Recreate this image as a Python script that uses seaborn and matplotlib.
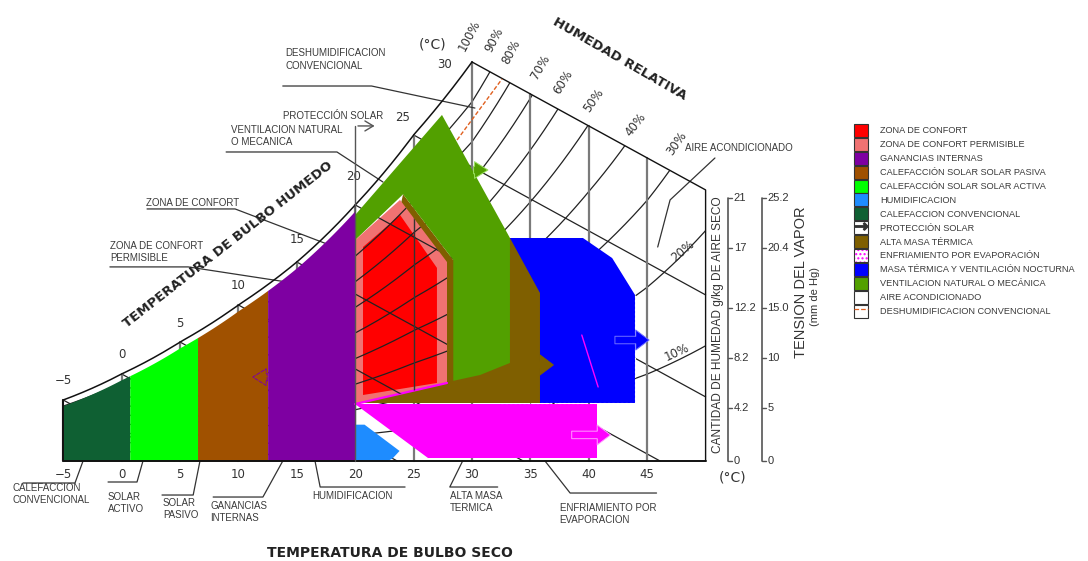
import numpy as np
import pandas as pd
import matplotlib
matplotlib.use("Agg")
import matplotlib.pyplot as plt
import matplotlib.patches as mpatches
from matplotlib.lines import Line2D
import seaborn as sns

# ---------------- data ----------------
# saturation curve (dry bulb °C -> chart humidity g/kg)
sat_temp = [-5, 0, 5, 10, 15, 20, 25, 30, 35, 40, 45, 50]
sat_hum = [4.87, 6.95, 9.5, 12.46, 15.89, 20.45, 26.04, 31.87, 41.4, 53.8, 69.4, 92.0]
rh_levels = [10, 20, 30, 40, 50, 60, 70, 80, 90]
wet_bulb_temps = [-5, 0, 5, 10, 15, 20, 25, 30]
dry_bulb_ticks = [-5, 0, 5, 10, 15, 20, 25, 30, 35, 40, 45]
wet_bulb_slope = -0.511
t_max = 50

humidity_ticks = [0, 4.2, 8.2, 12.2, 17, 21]
humidity_labels = ["0", "4.2", "8.2", "12.2", "17", "21"]
vapor_labels = ["0", "5", "10", "15.0", "20.4", "25.2"]

# heating strategies: bands of dry bulb temperature under the saturation curve
heating_edges = [-5, 0.7, 6.5, 12.5, 20]

humid_T = [20, 20, 20.8, 23.8, 23.2, 22.8]
humid_W = [0, 2.9, 2.9, 0.8, 0.2, 0]
evap_T = [20, 40.7, 40.7, 26.2]
evap_W = [4.55, 4.55, 0.24, 0.24]
night_T = [32.4, 39.5, 42.0, 43.96, 43.96, 32.4]
night_W = [17.81, 17.81, 16.21, 13.26, 4.63, 4.63]
mass_T = [20, 24.1, 28.4, 33.25, 35.82, 35.82]
mass_W = [4.63, 21.3, 16.05, 17.81, 13.42, 4.63]
vent_T = [20, 27.43, 33.25, 33.25, 30.7, 28.4, 28.4, 24.1, 20]
vent_W = [19.65, 27.64, 17.81, 7.83, 6.87, 6.4, 16.05, 21.3, 17.65]
perm_T = [20, 20, 23.84, 27.86, 27.86]
perm_W = [4.55, 17.65, 20.85, 15.89, 6.23]
comfort_T = [20.67, 20.67, 23.84, 27.0, 27.0]
comfort_W = [5.27, 17.09, 19.65, 15.42, 6.23]
dehum_T = [28.72, 32.57]
dehum_W = [25.64, 30.51]

# colours
C_COMF = "#FF0000"
C_PERM = "#F07272"
C_GAIN = "#7E00A2"
C_PASS = "#A05100"
C_ACT = "#00FF00"
C_HUM = "#1E8CFF"
C_CONV = "#0F6033"
C_MASS = "#7F5F00"
C_EVAP = "#FF00FF"
C_NIGHT = "#0000FF"
C_VENT = "#52A000"
C_DEH = "#E06020"
TXT = "#3a3a3a"

sns.set_theme(style="white")
plt.rcParams["font.family"] = ["Liberation Sans", "DejaVu Sans"]

fig = plt.figure(figsize=(10.88, 5.61), dpi=100)
ax = fig.add_axes([0, 0, 1, 1])
ax.set_xlim(-10.41, 82.74)
ax.set_ylim(-7.99, 36.82)
ax.axis("off")


def sat(t):
    return np.exp(np.interp(t, sat_temp, np.log(sat_hum)))


def top_border(t):
    return sat(30) + wet_bulb_slope * (np.asarray(t) - 30)


# chart outline used to clip the grid
t_curve = np.linspace(-5, 30, 300)
outline_xy = np.c_[np.r_[t_curve, t_max, t_max, -5],
                   np.r_[sat(t_curve), top_border(t_max), 0, 0]]
outline = mpatches.Polygon(outline_xy, closed=True, fc="none", ec="none")
ax.add_patch(outline)

# relative humidity curves
t_fine = np.linspace(-5, t_max, 800)
rh_df = pd.concat([pd.DataFrame({"T": t_fine, "W": r / 100 * sat(t_fine), "rh": r})
                   for r in rh_levels])
sns.lineplot(data=rh_df, x="T", y="W", units="rh", estimator=None, sort=False,
             color="#222222", lw=0.9, ax=ax, legend=False, zorder=1)
for ln in ax.lines:
    ln.set_clip_path(outline)


def wet_bulb_line(tw):
    w0 = float(sat(tw))
    t_end = min(tw - w0 / wet_bulb_slope, t_max)
    return [tw, t_end], [w0, w0 + wet_bulb_slope * (t_end - tw)]


for tw in wet_bulb_temps[:-1]:
    xs, ys = wet_bulb_line(tw)
    ax.plot(xs, ys, color="#222222", lw=0.9, zorder=1)
for tb in dry_bulb_ticks:
    top = sat(tb) if tb <= 30 else top_border(tb)
    ax.plot([tb, tb], [0, top], color="#7a7a7a", lw=1.6, zorder=1)

# heating bands
band_colors = [C_CONV, C_ACT, C_PASS, C_GAIN]
for (t0, t1), col in zip(zip(heating_edges[:-1], heating_edges[1:]), band_colors):
    tt = np.linspace(t0, t1, 60)
    ax.fill_between(tt, 0, sat(tt) - 0.45, color=col, lw=0, zorder=2)

ax.fill(humid_T, humid_W, color=C_HUM, lw=0, zorder=2)
ax.fill(evap_T, evap_W, color=C_EVAP, lw=0, zorder=2)
ax.fill(night_T, night_W, color=C_NIGHT, lw=0, zorder=2)
ax.plot([night_T[3], night_T[4], night_T[5]], [night_W[3], night_W[4], night_W[5]],
        color="white", lw=0.8, ls=(0, (2, 2)), zorder=2.1)
ax.fill(mass_T, mass_W, color=C_MASS, lw=0, zorder=2.2)
ax.fill(vent_T, vent_W, color=C_VENT, lw=0, zorder=2.4)
perm_patch = ax.fill(perm_T, perm_W, color=C_PERM, lw=0, zorder=2.6)[0]
ax.fill(comfort_T, comfort_W, color=C_COMF, lw=0, zorder=2.8)
ax.plot([perm_T[0], perm_T[-1]], [perm_W[0], perm_W[-1]], color=C_EVAP, lw=1.6, zorder=2.9)
ax.plot([39.4, 40.8], [10.06, 5.91], color=C_EVAP, lw=1.0, zorder=2.9)

# grid lines visible across the comfort zone
for r in rh_levels:
    ln, = ax.plot(t_fine, r / 100 * sat(t_fine), color="#222222", lw=0.9, zorder=3)
    ln.set_clip_path(perm_patch)
for tw in wet_bulb_temps[:-1]:
    xs, ys = wet_bulb_line(tw)
    ln, = ax.plot(xs, ys, color="#222222", lw=0.9, zorder=3)
    ln.set_clip_path(perm_patch)
ln, = ax.plot([25, 25], [0, sat(25)], color="#333333", lw=1.0, zorder=3)
ln.set_clip_path(perm_patch)

# outline
ax.plot(t_curve, sat(t_curve), color="#111111", lw=1.1, zorder=4)
ax.plot([30, t_max, t_max], [sat(30), float(top_border(t_max)), 0], color="#111111", lw=1.0, zorder=4)
ax.plot([-5, -5, t_max], [sat(-5), 0, 0], color="#111111", lw=1.4, zorder=4)
ax.plot(dehum_T, dehum_W, color=C_DEH, lw=1.0, ls=(0, (3, 1.5)), zorder=4)


# strategy arrows
def arrow(tail, tip, fc, ec, ls="-", hw=1.2, tw=0.45):
    ax.annotate("", xy=tip, xytext=tail, zorder=5,
                arrowprops=dict(arrowstyle=f"simple,head_length=0.8,head_width={hw},tail_width={tw}",
                                fc=fc, ec=ec, lw=0.7, ls=ls))


arrow((38.3, 2.08), (42.1, 2.08), C_EVAP, "#FF9CFF")
arrow((42.0, 9.66), (45.4, 9.66), C_NIGHT, "#7070FF")
arrow((34.0, 7.67), (37.2, 7.67), C_MASS, C_MASS)
arrow((29.9, 23.24), (31.6, 23.24), C_VENT, "#9BE060", hw=1.0)
arrow((12.7, 6.7), (11.0, 6.7), "none", C_GAIN, ls="--", hw=1.0)

ax.plot([20, 20], [0, 26.76], color="#555555", lw=1.0, zorder=4)
ax.annotate("", xy=(21.9, 26.76), xytext=(20, 26.76), zorder=4,
            arrowprops=dict(arrowstyle="->,head_length=0.5,head_width=0.3", color="#555555", lw=1.0))

# axis numbers
num_font = dict(family="DejaVu Sans", fontsize=8.5, color="#333333")
for tb in dry_bulb_ticks:
    ax.text(tb, -1.05, f"{tb}".replace("-", "\u2212"), ha="center", va="center", **num_font)

wb_offsets = [(0, 19), (0, 19), (0, 19), (0, 19), (0, 23), (-2, 28), (-11, 17), (-27, -3)]
for tw, (dx, dy) in zip(wet_bulb_temps, wb_offsets):
    ax.annotate(f"{tw}".replace("-", "\u2212"), (tw, float(sat(tw))), xytext=(dx, dy),
                textcoords="offset pixels", ha="center", va="center", **num_font)
ax.text(26.6, 33.3, "(°C)", ha="center", va="center", family="DejaVu Sans", fontsize=10, color="#333333")
ax.text(52.3, -1.36, "(°C)", ha="center", va="center", family="DejaVu Sans", fontsize=10, color="#333333")

# relative humidity labels
rh_label_pos = [(29.8, 34.0, 62), (31.9, 33.6, 62), (33.4, 32.7, 62), (35.9, 31.5, 60),
                (37.8, 30.3, 58), (40.4, 28.8, 55), (44.0, 26.9, 52), (47.5, 25.4, 55),
                (48.06, 16.77, 40), (47.55, 8.71, 25)]
for r, (x, y, rot) in zip([100, 90, 80, 70, 60, 50, 40, 30, 20, 10], rh_label_pos):
    ax.text(x, y, f"{r}%", rotation=rot, ha="center", va="center", rotation_mode="anchor", **num_font)

# right-hand scales
for x_axis, labels in [(51.9, humidity_labels), (54.8, vapor_labels)]:
    ax.plot([x_axis, x_axis], [0, humidity_ticks[-1]], color="#555555", lw=1.2)
    for v, lab in zip(humidity_ticks, labels):
        ax.plot([x_axis, x_axis + 0.4], [v, v], color="#555555", lw=1.0)
        ax.text(x_axis + 0.5, v, lab, ha="left", va="center", fontsize=8, color="#333333")
ax.text(51.05, 10.9, "CANTIDAD DE HUMEDAD g/kg DE AIRE SECO", rotation=90,
        ha="center", va="center", fontsize=8.6, color="#333333")
ax.text(58.2, 14.3, "TENSION DEL VAPOR", rotation=90, ha="center", va="center",
        fontsize=10.5, color="#333333")
ax.text(59.4, 13.1, "(mm de Hg)", rotation=90, ha="center", va="center",
        fontsize=8, color="#333333")

# annotation labels with leader lines
lab_font = dict(fontsize=7, color=TXT, ha="left", va="center", linespacing=1.35)
leaders = [
    ("DESHUMIDIFICACION\nCONVENCIONAL", (14.0, 32.07), [13.8, 21.4, 30.25], [29.95, 29.95, 28.19]),
    ("PROTECCIÓN SOLAR", (13.8, 27.56), None, None),
    ("VENTILACION NATURAL\nO MECANICA", (9.37, 25.96), [8.95, 18.44, 22.38], [24.68, 24.68, 22.28]),
    ("ZONA DE CONFORT", (2.09, 20.6), [2.18, 9.72, 23.4], [20.13, 20.13, 15.26]),
    ("ZONA DE CONFORT\nPERMISIBLE", (-0.99, 16.69), [-1.0, 5.7, 20.4], [15.5, 15.5, 13.4]),
    ("CALEFACCION\nCONVENCIONAL", (-9.38, -2.64), [-8.44, -3.99, -3.3], [-1.76, -1.76, 0]),
    ("SOLAR\nACTIVO", (-1.16, -3.35), [-1.16, 1.32, 1.83], [-1.68, -1.68, 0]),
    ("SOLAR\nPASIVO", (3.54, -3.83), [3.46, 6.13, 6.71], [-2.72, -2.72, 0]),
    ("GANANCIAS\nINTERNAS", (7.57, -4.07), [7.84, 12.1, 13.8], [-2.88, -2.88, 0]),
    ("HUMIDIFICACION", (16.3, -2.8), [16.56, 17.0, 24.27], [0, -2.08, -2.08]),
    ("ALTA MASA\nTERMICA", (28.1, -3.27), [32.2, 28.1, 29.2], [-2.08, -2.08, 0]),
    ("ENFRIAMIENTO POR\nEVAPORACION", (37.5, -4.23), [36.25, 38.4, 45.8], [0, -2.56, -2.56]),
    ("AIRE ACONDICIONADO", (48.2, 25.0), [50.8, 46.96, 45.9], [24.2, 20.85, 17.09]),
]
for text, (tx, ty), lx, ly in leaders:
    ax.text(tx, ty, text, zorder=6, **lab_font)
    if lx is not None:
        ax.plot(lx, ly, color="#333333", lw=0.9, zorder=1.5)

# scale titles
title_font = dict(family="DejaVu Sans", fontweight="bold", fontsize=9.5, color="#222222",
                  ha="center", va="center")
ax.text(23.0, -7.35, "TEMPERATURA DE BULBO SECO", **{**title_font, "fontsize": 10})
ax.text(42.6, 32.1, "HUMEDAD RELATIVA", rotation=-30, **title_font)
ax.text(9.1, 17.25, "TEMPERATURA DE BULBO HUMEDO", rotation=38, **title_font)

# legend
edge = "#333333"
handles = [
    mpatches.Patch(fc=C_COMF, ec=edge, lw=0.8),
    mpatches.Patch(fc=C_PERM, ec=edge, lw=0.8),
    mpatches.Patch(fc=C_GAIN, ec=edge, lw=0.8),
    mpatches.Patch(fc=C_PASS, ec=edge, lw=0.8),
    mpatches.Patch(fc=C_ACT, ec=edge, lw=0.8),
    mpatches.Patch(fc=C_HUM, ec=edge, lw=0.8),
    mpatches.Patch(fc=C_CONV, ec=edge, lw=0.8),
    (mpatches.Patch(fc="white", ec=edge, lw=0.8),
     Line2D([], [], marker=r"$\rightarrow$", color="#333333", ls="none", markersize=9)),
    mpatches.Patch(fc=C_MASS, ec=edge, lw=0.8),
    (mpatches.Patch(fc="white", ec=C_EVAP, hatch="....", lw=0),
     mpatches.Patch(fc="none", ec=edge, lw=0.8)),
    mpatches.Patch(fc=C_NIGHT, ec=edge, lw=0.8),
    mpatches.Patch(fc=C_VENT, ec=edge, lw=0.8),
    mpatches.Patch(fc="white", ec=edge, lw=0.8),
    (mpatches.Patch(fc="white", ec=edge, lw=0.8),
     Line2D([], [], color=C_DEH, ls="--", lw=0.9)),
]
labels = [
    "ZONA DE CONFORT", "ZONA DE CONFORT PERMISIBLE", "GANANCIAS INTERNAS",
    "CALEFACCIÓN SOLAR SOLAR PASIVA", "CALEFACCIÓN SOLAR SOLAR ACTIVA", "HUMIDIFICACION",
    "CALEFACCION CONVENCIONAL", "PROTECCIÓN SOLAR", "ALTA MASA TÉRMICA",
    "ENFRIAMIENTO POR EVAPORACIÓN", "MASA TÉRMICA Y VENTILACIÓN NOCTURNA",
    "VENTILACION NATURAL O MECÁNICA", "AIRE ACONDICIONADO", "DESHUMIDIFICACION CONVENCIONAL",
]
leg = ax.legend(handles, labels, loc="upper left", bbox_to_anchor=(854 / 1088, 1 - 124 / 561),
                frameon=False, fontsize=6.6, handlelength=1.52, handleheight=1.8,
                handletextpad=1.3, labelspacing=0.1, borderpad=0, borderaxespad=0)
for t in leg.get_texts():
    t.set_color(TXT)

fig.savefig("out.png", dpi=100, facecolor="white")
